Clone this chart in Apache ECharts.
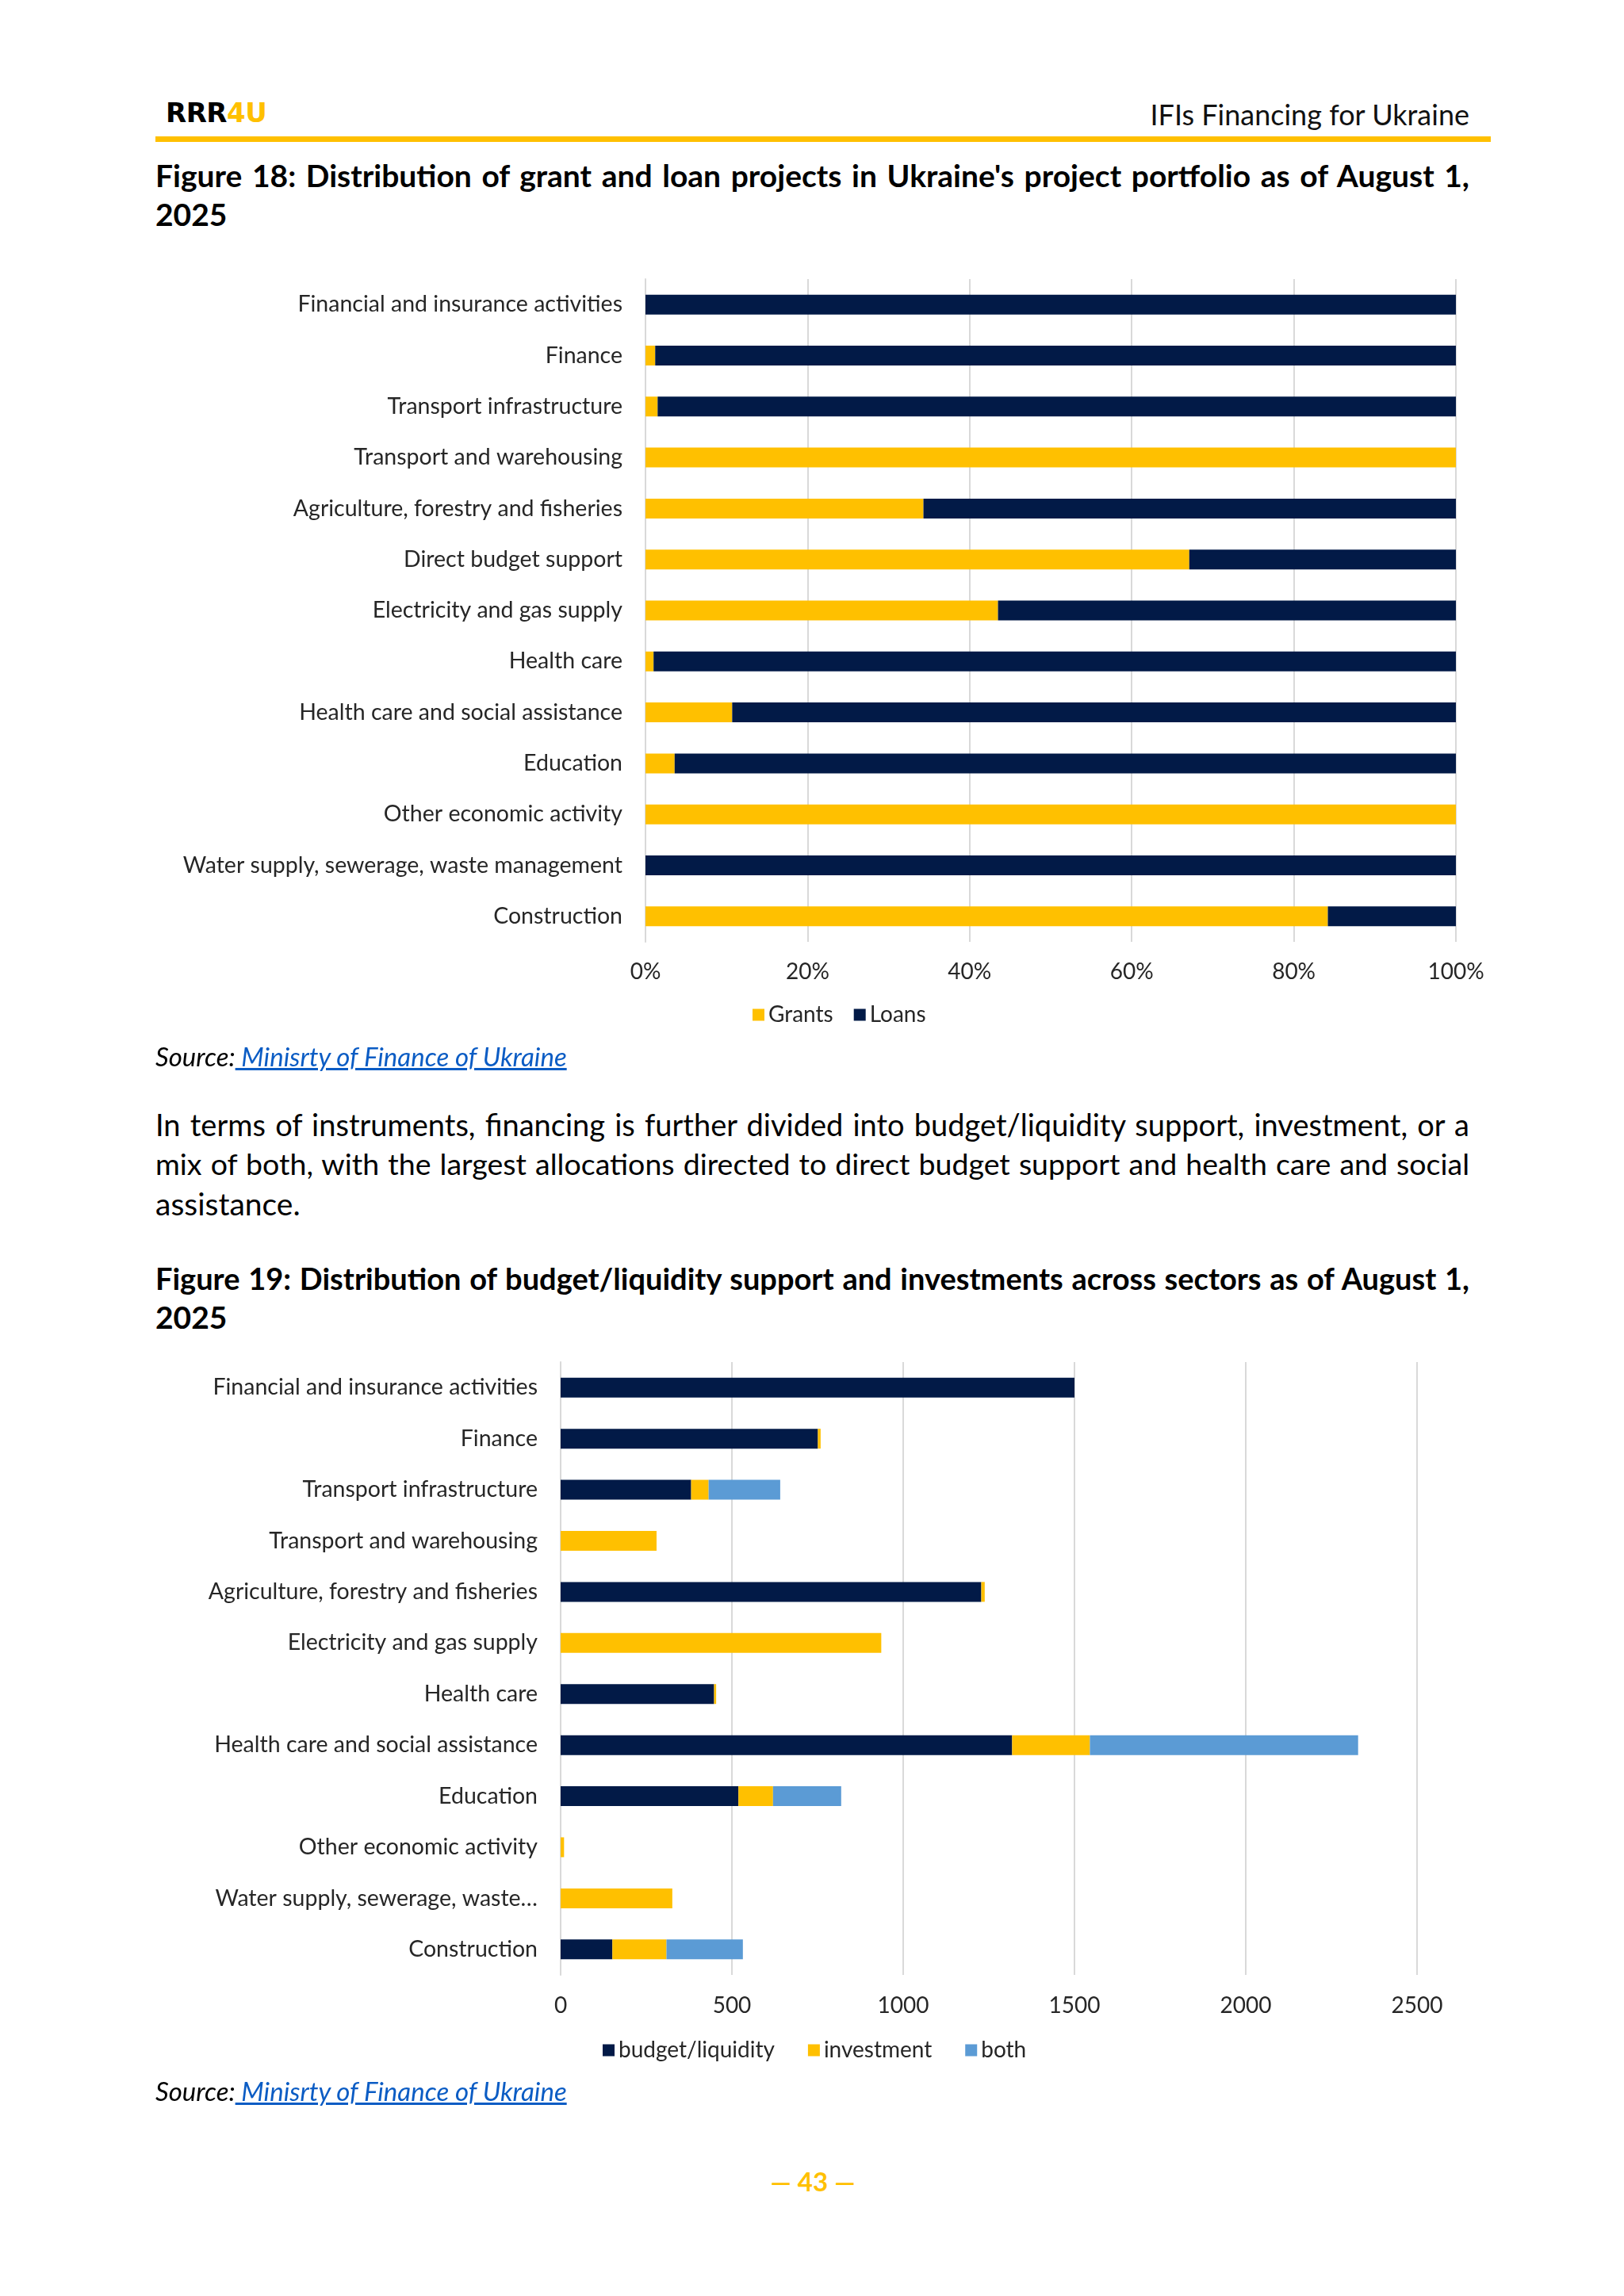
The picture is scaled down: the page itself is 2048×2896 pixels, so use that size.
<!DOCTYPE html>
<html>
<head>
<meta charset="utf-8">
<script src="https://cdn.jsdelivr.net/npm/echarts@6.0.0/dist/echarts.min.js"></script>
<style>
html,body{margin:0;padding:0;background:#fff;}
body{width:2048px;height:2896px;position:relative;overflow:hidden;font-family:Lato,"Open Sans",sans-serif;color:#000;}
.abs{position:absolute;}
.logo{left:209px;top:120px;font-family:"DejaVu Sans",sans-serif;font-size:34px;line-height:44px;font-weight:700;letter-spacing:-0.5px;}
.logo .y{color:#FFC000;}
.hdr{right:195px;top:121px;font-size:36px;line-height:46px;font-weight:400;color:#111;}
.rule{left:196px;top:172px;width:1684px;height:7px;background:#FFC000;}
.title{left:196px;width:1657px;font-size:39px;line-height:49px;font-weight:700;}
.j{text-align:justify;text-align-last:justify;white-space:nowrap;}
.para{left:196px;width:1657px;font-size:39px;line-height:50px;font-weight:400;}
.src{left:196px;font-size:33px;line-height:38px;font-style:italic;}
.src a{color:#0b5cc4;text-decoration:underline;}
.pg{left:925px;width:200px;text-align:center;top:2731px;font-size:33px;line-height:40px;font-weight:700;color:#FFC000;}
.chart{left:0;width:2048px;}
</style>
</head>
<body>
<div class="abs logo">RRR<span class="y">4U</span></div>
<div class="abs hdr">IFIs Financing for Ukraine</div>
<div class="abs rule"></div>

<div class="abs title" style="top:197px;">
  <div class="j fit">Figure 18: Distribution of grant and loan projects in Ukraine's project portfolio as of August 1,</div>
  <div>2025</div>
</div>

<div id="chart1" class="abs chart" style="top:330px;height:1000px;"></div>

<div class="abs src" style="top:1313px;">Source:<a> Minisrty of Finance of Ukraine</a></div>

<div class="abs para" style="top:1393px;">
  <div class="j fit">In terms of instruments, financing is further divided into budget/liquidity support, investment, or a</div>
  <div class="j fit">mix of both, with the largest allocations directed to direct budget support and health care and social</div>
  <div>assistance.</div>
</div>

<div class="abs title" style="top:1588px;">
  <div class="j fit">Figure 19: Distribution of budget/liquidity support and investments across sectors as of August 1,</div>
  <div>2025</div>
</div>

<div id="chart2" class="abs chart" style="top:1690px;height:950px;"></div>

<div class="abs src" style="top:2618px;">Source:<a> Minisrty of Finance of Ukraine</a></div>

<div class="abs pg">— 43 —</div>

<script>
// ---------- Figure 18 data (share, %) ----------
const categories1 = [
  'Financial and insurance activities',
  'Finance',
  'Transport infrastructure',
  'Transport and warehousing',
  'Agriculture, forestry and fisheries',
  'Direct budget support',
  'Electricity and gas supply',
  'Health care',
  'Health care and social assistance',
  'Education',
  'Other economic activity',
  'Water supply, sewerage, waste management',
  'Construction'
];
const grants = [0, 1.2, 1.5, 100, 34.3, 67.1, 43.5, 1.0, 10.7, 3.6, 100, 0, 84.2];
const loans  = [100, 98.8, 98.5, 0, 65.7, 32.9, 56.5, 99.0, 89.3, 96.4, 0, 100, 15.8];
const ticks1 = [0, 20, 40, 60, 80, 100];

// ---------- Figure 19 data ----------
const categories2 = [
  'Financial and insurance activities',
  'Finance',
  'Transport infrastructure',
  'Transport and warehousing',
  'Agriculture, forestry and fisheries',
  'Electricity and gas supply',
  'Health care',
  'Health care and social assistance',
  'Education',
  'Other economic activity',
  'Water supply, sewerage, waste management',
  'Construction'
];
const budgetLiquidity = [1500, 751, 381, 0, 1228, 0, 448, 1318, 519, 0, 0, 151];
const investment      = [0, 8, 51, 280, 10, 936, 6, 227, 101, 10, 326, 158];
const both            = [0, 0, 209, 0, 0, 0, 0, 783, 199, 0, 0, 223];
const ticks2 = [0, 500, 1000, 1500, 2000, 2500];

// fit justified lines
document.querySelectorAll('.fit').forEach(el => {
  const span = document.createElement('span');
  span.textContent = el.textContent;
  span.style.whiteSpace = 'nowrap';
  span.style.visibility = 'hidden';
  span.style.position = 'absolute';
  const fs = parseFloat(getComputedStyle(el).fontSize);
  span.style.font = getComputedStyle(el).font;
  document.body.appendChild(span);
  let size = fs;
  while (span.offsetWidth > 1640 && size > 20) { size -= 0.5; span.style.fontSize = size + 'px'; }
  el.style.fontSize = size + 'px';
  span.remove();
});

const NAVY = '#021A47', YEL = '#FFC000', BLUE = '#5B9BD5', GRID = '#D9D9D9', TXT = '#262626';
const FONT = 'Lato';

function baseOpt(cats, labelFmt) {
  return {
    animation: false,
    textStyle: { fontFamily: FONT },
    yAxis: {
      type: 'category', data: cats, inverse: true,
      axisTick: { show: false },
      axisLine: { show: true, lineStyle: { color: GRID, width: 2 } },
      axisLabel: { color: TXT, fontSize: 28.5, fontFamily: FONT, margin: 29, formatter: labelFmt }
    }
  };
}

const c1 = echarts.init(document.getElementById('chart1'), null, { renderer: 'canvas' });
const o1 = baseOpt(categories1, v => v);
o1.grid = { left: 814, width: 1022, top: 22, height: 836, containLabel: false };
o1.xAxis = {
  type: 'value', min: ticks1[0], max: ticks1[ticks1.length - 1], interval: ticks1[1] - ticks1[0],
  axisLine: { show: false }, axisTick: { show: false },
  splitLine: { show: true, lineStyle: { color: GRID, width: 2 } },
  axisLabel: { color: TXT, fontSize: 28, fontFamily: FONT, margin: 24, formatter: '{value}%' }
};
o1.legend = {
  data: ['Grants', 'Loans'], left: 944, top: 931, icon: 'rect', itemWidth: 15, itemHeight: 15, itemGap: 26,
  textStyle: { color: TXT, fontSize: 28, fontFamily: FONT }
};
o1.series = [
  { name: 'Grants', type: 'bar', stack: 's', data: grants, barWidth: 25, itemStyle: { color: YEL } },
  { name: 'Loans', type: 'bar', stack: 's', data: loans, barWidth: 25, itemStyle: { color: NAVY } }
];
c1.setOption(o1);

const c2 = echarts.init(document.getElementById('chart2'), null, { renderer: 'canvas' });
const o2 = baseOpt(categories2, v => v.length > 36 ? v.slice(0, 29) + '…' : v);
o2.grid = { left: 707, width: 1080, top: 28, height: 773, containLabel: false };
o2.xAxis = {
  type: 'value', min: ticks2[0], max: ticks2[ticks2.length - 1], interval: ticks2[1] - ticks2[0],
  axisLine: { show: false }, axisTick: { show: false },
  splitLine: { show: true, lineStyle: { color: GRID, width: 2 } },
  axisLabel: { color: TXT, fontSize: 28, fontFamily: FONT, margin: 25, formatter: v => String(v) }
};
o2.legend = {
  data: ['budget/liquidity', 'investment', 'both'], left: 755, top: 877, icon: 'rect', itemWidth: 15, itemHeight: 15, itemGap: 42,
  textStyle: { color: TXT, fontSize: 28, fontFamily: FONT }
};
o2.series = [
  { name: 'budget/liquidity', type: 'bar', stack: 's', data: budgetLiquidity, barWidth: 25, itemStyle: { color: NAVY } },
  { name: 'investment', type: 'bar', stack: 's', data: investment, barWidth: 25, itemStyle: { color: YEL } },
  { name: 'both', type: 'bar', stack: 's', data: both, barWidth: 25, itemStyle: { color: BLUE } }
];
c2.setOption(o2);
</script>
</body>
</html>
